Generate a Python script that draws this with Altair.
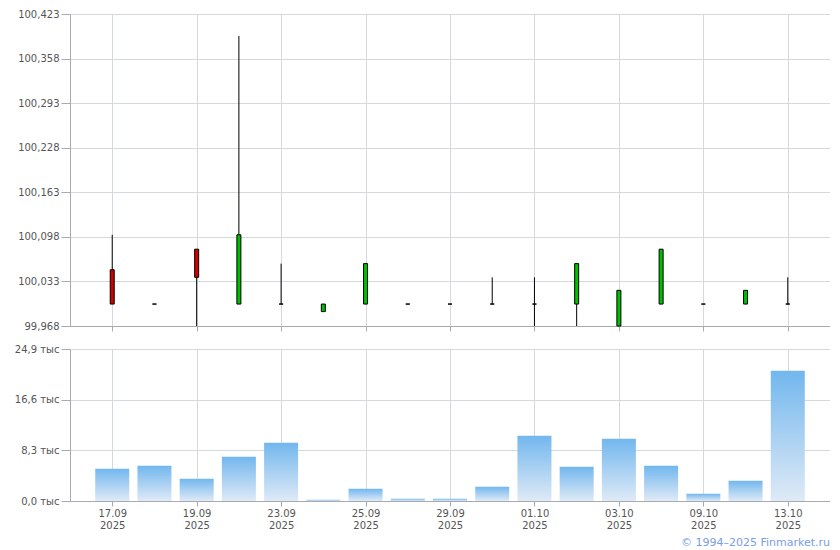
import altair as alt
import pandas as pd

dates = ["17.09", "18.09", "19.09", "22.09", "23.09", "24.09", "25.09", "26.09", "29.09",
         "30.09", "01.10", "02.10", "03.10", "07.10", "09.10", "10.10", "13.10"]
opens = [100.050, 100.000, 100.080, 100.000, 100.000, 99.989, 100.000, 100.000, 100.000,
         100.000, 100.000, 100.000, 99.968, 100.000, 100.000, 100.000, 100.000]
closes = [100.000, 100.000, 100.039, 100.101, 100.000, 100.000, 100.059, 100.000, 100.000,
          100.000, 100.000, 100.059, 100.020, 100.080, 100.000, 100.020, 100.000]
highs = [100.101, 100.000, 100.080, 100.391, 100.059, 100.000, 100.059, 100.000, 100.000,
         100.039, 100.039, 100.059, 100.020, 100.080, 100.000, 100.020, 100.039]
lows = [100.000, 100.000, 99.968, 100.000, 100.000, 99.989, 100.000, 100.000, 100.000,
        100.000, 99.968, 99.968, 99.968, 100.000, 100.000, 100.000, 100.000]
volumes = [5290, 5780, 3650, 7260, 9550, 210, 2000, 380, 380,
           2340, 10700, 5620, 10200, 5780, 1200, 3330, 21350]

price_ticks = [99.968, 100.033, 100.098, 100.163, 100.228, 100.293, 100.358, 100.423]
vol_ticks = [0, 8300, 16600, 24900]
label_idx = [0, 2, 4, 6, 8, 10, 12, 14, 16]
year = "2025"

df = pd.DataFrame({
    "i": list(range(len(dates))),
    "date": dates,
    "open": opens,
    "close": closes,
    "high": highs,
    "low": lows,
    "volume": volumes,
})
df["dir"] = ["up" if c >= o else "down" for o, c in zip(opens, closes)]

FONT = "DejaVu Sans"
LABEL_COLOR = "#555555"
GRID = "#d3d9df"
DOMAIN = "#a7aab3"
W = 760
EXT = 62

label_js = "[" + ",".join("'%s'" % d for d in dates) + "]"

x_scale = alt.Scale(domain=[-1, len(dates)], nice=False, zero=False, padding=0)
x_top = alt.X("i:Q", scale=x_scale,
              axis=alt.Axis(values=label_idx, labels=False, title=None, grid=True,
                            gridColor=GRID, domainColor=DOMAIN, tickColor=DOMAIN, tickSize=5))
x_bot = alt.X("i:Q", scale=x_scale,
              axis=alt.Axis(values=label_idx, title=None, grid=True, gridColor=GRID,
                            domainColor=DOMAIN, tickColor=DOMAIN, tickSize=5,
                            labelExpr="[%s[datum.value], '%s']" % (label_js, year),
                            labelFont=FONT, labelFontSize=10, labelColor=LABEL_COLOR,
                            labelPadding=2, labelLineHeight=12))

y_price = alt.Scale(domain=[price_ticks[0], price_ticks[-1]], nice=False, zero=False)
price_axis = alt.Axis(values=price_ticks, title=None, gridColor=GRID, domainColor=DOMAIN,
                      tickColor=DOMAIN, tickSize=9, labelFont=FONT, labelFontSize=10,
                      labelColor=LABEL_COLOR, labelPadding=2,
                      labelExpr="replace(format(datum.value, '.3f'), '.', ',')",
                      minExtent=EXT, maxExtent=EXT)

base = alt.Chart(df)
wick = base.mark_rule(color="black", strokeWidth=1).encode(
    x=x_top,
    y=alt.Y("low:Q", scale=y_price, axis=price_axis),
    y2="high:Q",
)
body = base.mark_bar(size=4, stroke="black", strokeWidth=1).encode(
    x=alt.X("i:Q", scale=x_scale),
    y="open:Q",
    y2="close:Q",
    color=alt.Color("dir:N", scale=alt.Scale(domain=["up", "down"], range=["#00bf00", "#d00000"]),
                    legend=None),
)
top = alt.layer(wick, body).properties(width=W, height=312)

vol_axis = alt.Axis(values=vol_ticks, title=None, gridColor=GRID, domainColor=DOMAIN,
                    tickColor=DOMAIN, tickSize=9, labelFont=FONT, labelFontSize=10,
                    labelColor=LABEL_COLOR, labelPadding=2,
                    labelExpr="replace(format(datum.value / 1000, '.1f'), '.', ',') + ' тыс'",
                    minExtent=EXT, maxExtent=EXT)

bars = base.mark_bar(
    size=34,
    color=alt.Gradient(gradient="linear", x1=0, x2=0, y1=0, y2=1,
                       stops=[alt.GradientStop(color="#72b7ee", offset=0),
                              alt.GradientStop(color="#dfeaf6", offset=1)]),
).encode(
    x=x_bot,
    y=alt.Y("volume:Q", scale=alt.Scale(domain=[0, vol_ticks[-1]], nice=False), axis=vol_axis),
)
copyright_text = alt.Chart(pd.DataFrame({"t": ["© 1994–2025 Finmarket.ru"]})).mark_text(
    align="right", baseline="alphabetic", font=FONT, fontSize=11, color="#7a9de6"
).encode(text="t:N", x=alt.value(W), y=alt.value(197))

bottom = alt.layer(bars, copyright_text).properties(width=W, height=152)

chart = alt.vconcat(top, bottom, spacing=12).properties(
    padding={"left": 0, "top": 1, "right": 0, "bottom": 0}
).configure_view(stroke=None).configure_axis(domainWidth=1)

chart.save("out.html", embed_options={"renderer": "svg", "actions": False})
